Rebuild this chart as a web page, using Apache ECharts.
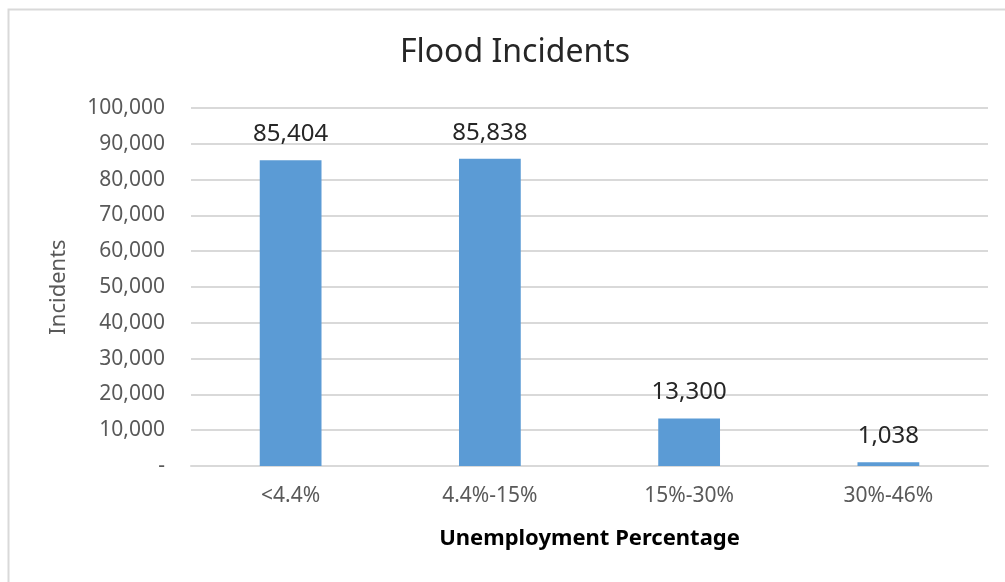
<!DOCTYPE html>
<html>
<head>
<meta charset="utf-8">
<style>
  html, body { margin: 0; padding: 0; background: #ffffff; }
  #chart { width: 1005px; height: 582px; }
</style>
<script src="https://cdn.jsdelivr.net/npm/echarts@6/dist/echarts.min.js"></script>
</head>
<body>
<div id="chart"></div>
<script>
// Flood incident counts grouped by local unemployment rate band
const categories = ['<4.4%', '4.4%-15%', '15%-30%', '30%-46%'];
const incidents = [85404, 85838, 13300, 1038];
const yTicks = [0, 10000, 20000, 30000, 40000, 50000, 60000, 70000, 80000, 90000, 100000];

const FONT = '"Noto Sans", "Open Sans", sans-serif';

function fmt(v) {
  return v === 0 ? '-' : v.toLocaleString('en-US');
}

const chart = echarts.init(document.getElementById('chart'), null, { renderer: 'canvas' });

chart.setOption({
  animation: false,
  backgroundColor: '#ffffff',
  title: {
    text: 'Flood Incidents',
    left: 510,
    textAlign: 'center',
    top: 32,
    textStyle: { fontFamily: FONT, fontSize: 32, fontWeight: 'normal', color: '#262626' }
  },
  graphic: [{
    type: 'rect',
    shape: { x: 8.5, y: 9.5, width: 1020, height: 600 },
    style: { fill: 'none', stroke: '#d9d9d9', lineWidth: 2 },
    silent: true
  }],
  grid: { left: 191, right: 17, top: 108, bottom: 116 },
  xAxis: {
    type: 'category',
    data: categories,
    name: 'Unemployment Percentage',
    nameLocation: 'middle',
    nameGap: 62,
    nameTextStyle: { fontFamily: FONT, fontSize: 22, fontWeight: 'bold', color: '#000000' },
    axisLine: { show: true, lineStyle: { color: '#d9d9d9', width: 2 } },
    axisTick: { show: false },
    axisLabel: { fontFamily: FONT, fontSize: 21, color: '#595959', margin: 20 }
  },
  yAxis: {
    type: 'value',
    min: yTicks[0],
    max: yTicks[yTicks.length - 1],
    interval: yTicks[1] - yTicks[0],
    name: 'Incidents',
    nameLocation: 'middle',
    nameRotate: 90,
    nameGap: 121,
    nameTextStyle: { fontFamily: FONT, fontSize: 22, color: '#595959' },
    axisLine: { show: false },
    axisTick: { show: false },
    axisLabel: { fontFamily: FONT, fontSize: 21, color: '#595959', margin: 26, formatter: fmt },
    splitLine: { lineStyle: { color: '#d9d9d9', width: 2 } }
  },
  series: [{
    type: 'bar',
    data: incidents,
    barWidth: '31%',
    itemStyle: { color: '#5b9bd5' },
    label: {
      show: true,
      position: 'top',
      distance: 14,
      fontFamily: FONT,
      fontSize: 24,
      color: '#262626',
      formatter: p => fmt(p.value)
    }
  }]
});
</script>
</body>
</html>
